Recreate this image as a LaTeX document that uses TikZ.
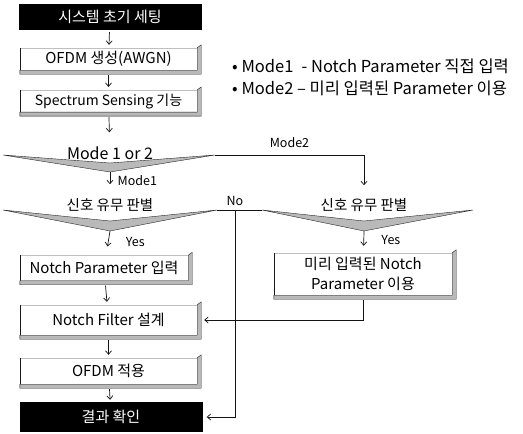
\documentclass[tikz,border=0pt]{standalone}
\usepackage{fontspec}
\setmainfont{Noto Sans CJK KR}
\usetikzlibrary{positioning,arrows.meta}

\tikzset{
  endbox/.style={fill=black,text=white,minimum width=183pt,minimum height=26pt,
    font=\fontsize{15}{18}\selectfont},
  procbox/.style={fill=white,minimum width=177pt,
    font=\fontsize{15}{18}\selectfont},
  bevel/.style={fill=gray!55,draw=gray!20!black,thin},
  vband/.style={fill=gray!55,draw=gray!30!black,thin},
  flow/.style={draw=gray!15!black,line width=0.7pt,-{Straight Barb[length=3.5pt,width=6pt]}},
  lbl/.style={font=\fontsize{12.5}{15}\selectfont}
}

\begin{document}
\begin{tikzpicture}[x=1pt,y=-1pt]
  \useasboundingbox (0,0) rectangle (523,434);

  % left column
  \node[endbox] (start) at (110,17) {시스템 초기 세팅};
  \node[procbox,minimum height=21pt] (ofdm) at (108.5,59) {OFDM 생성(AWGN)};
  \node[procbox,minimum height=21pt,font=\fontsize{14}{16}\selectfont] (sense) at (108.5,101) {Spectrum Sensing 기능};

  % decision: mode
  \coordinate (m1L) at (3,155);
  \coordinate (m1R) at (215,155);
  \coordinate (m1B) at (110,172);
  \fill[vband] (m1L) -- (110,163) -- (m1R) -- (m1B) -- cycle;
  \node[font=\fontsize{16}{18}\selectfont,inner sep=1pt] (mode) at (110,153) {Mode 1 or 2};

  % decision: signal (left)
  \coordinate (s1L) at (3,210);
  \coordinate (s1R) at (217,210);
  \coordinate (s1B) at (110,231);
  \fill[vband] (s1L) -- (110,221) -- (s1R) -- (s1B) -- cycle;
  \node[font=\fontsize{14.5}{16}\selectfont,inner sep=1pt] (sigL) at (110,205) {신호 유무 판별};

  % decision: signal (right)
  \coordinate (s2L) at (262,210);
  \coordinate (s2R) at (473,210);
  \coordinate (s2B) at (364,231);
  \fill[vband] (s2L) -- (364,221) -- (s2R) -- (s2B) -- cycle;
  \node[font=\fontsize{14.5}{16}\selectfont,inner sep=1pt] (sigR) at (364,205) {신호 유무 판별};

  \node[procbox,minimum width=168pt,minimum height=25pt] (npin) at (104,268) {Notch Parameter 입력};
  \node[procbox,minimum height=30pt] (filter) at (108.5,320) {Notch Filter 설계};
  \node[procbox,minimum height=26pt] (apply) at (108.5,371) {OFDM 적용};
  \node[endbox,minimum height=30pt] (result) at (111,417) {결과 확인};

  \node[procbox,minimum width=178pt,minimum height=42pt,align=center,font=\fontsize{15}{20}\selectfont] (preset) at (363,274) {미리 입력된 Notch\\Parameter 이용};

  % bevelled edges of the boxes
  \foreach \b in {ofdm,sense,npin,filter,apply,preset}{
    \draw[gray!50,thin] (\b.north west) -- (\b.north east);
    \draw[gray!20!black,thin] (\b.north west) -- (\b.south west);
    \filldraw[bevel] (\b.north east) -- ([xshift=4pt,yshift=3pt]\b.north east)
      -- ([xshift=4pt,yshift=-4pt]\b.south east) -- ([yshift=-4pt]\b.south west)
      -- (\b.south west) -- (\b.south east) -- cycle;
  }

  % legend
  \node[anchor=north west,align=left,font=\fontsize{16.5}{22}\selectfont,inner sep=0pt] (legend) at (232,59)
    {• Mode1\enspace - Notch Parameter 직접 입력\\• Mode2 – 미리 입력된 Parameter 이용};

  % connectors
  \draw[flow,shorten <=2pt,shorten >=3pt] (start) -- (ofdm);
  \draw[flow,shorten <=5pt,shorten >=3pt] (ofdm) -- (sense);
  \draw[flow,shorten <=5pt,shorten >=13pt] (sense) -- (mode);
  \draw[flow,shorten >=13pt] (m1B) -- (sigL) node[lbl,pos=0.35,right=4pt] {Mode1};
  \draw[flow,shorten >=12pt] (m1R) -| (sigR) node[lbl,pos=0.25,above=4pt] {Mode2};
  \draw[flow,shorten >=9pt] (s1B) -- (npin) node[lbl,pos=0.45,right=14pt] {Yes};
  \draw[flow,shorten >=7pt] (s2B) -- (preset) node[lbl,pos=0.4,right=14pt] {Yes};
  \draw[flow,shorten <=5pt,shorten >=3pt] (npin) -- (filter);
  \draw[flow,shorten <=5pt,shorten >=3pt] (filter) -- (apply);
  \draw[flow,shorten <=5pt,shorten >=2pt] (apply) -- (result);
  \draw[flow,shorten <=5pt,shorten >=7pt] (preset.south) |- (filter.east);

  \coordinate (nojoin) at (235,210);
  \draw[draw=gray!15!black,line width=0.7pt] (s1R) -- (s2L);
  \node[lbl,above=1pt] (nolbl) at (nojoin) {No};
  \draw[flow,shorten >=4pt] (nojoin) |- (result.east);
\end{tikzpicture}
\end{document}
